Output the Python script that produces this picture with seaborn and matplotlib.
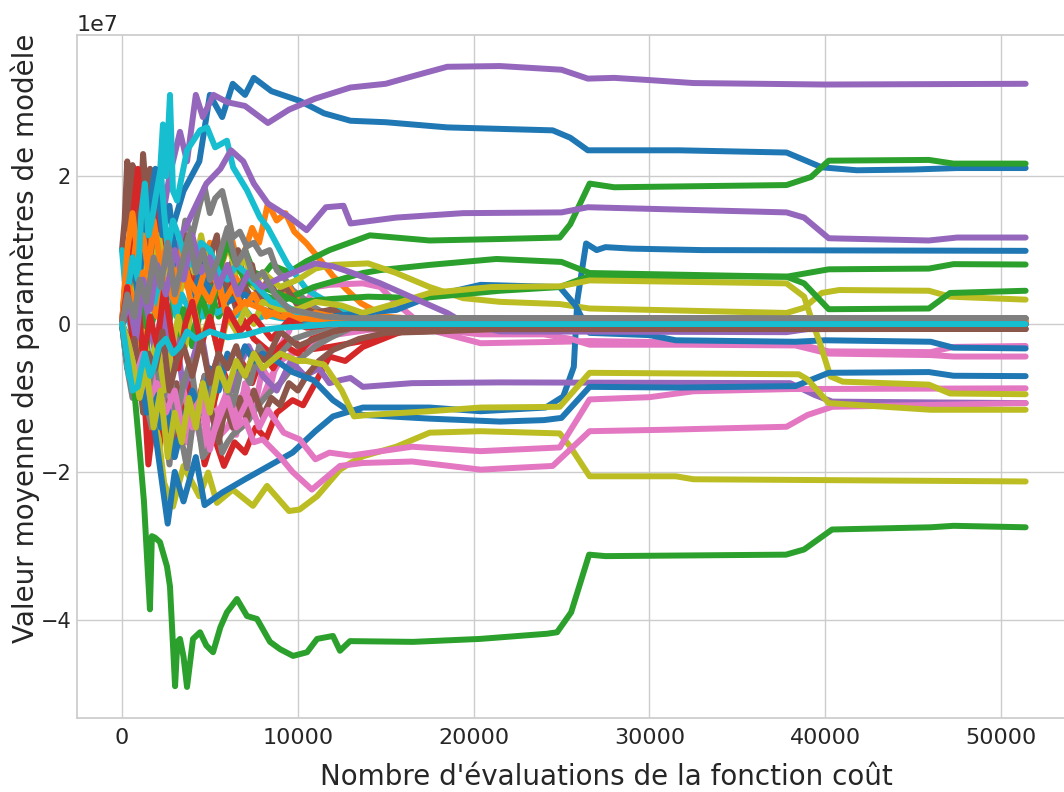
"""Trajectoires des paramètres moyens du modèle en fonction du nombre d'évaluations.

Les valeurs sont lues sur la figure de référence (en unités de 1e6).
"""

import matplotlib
matplotlib.use("Agg")
import matplotlib.pyplot as plt
import numpy as np
import pandas as pd
import seaborn as sns


# chaque série : (évaluations, valeur moyenne en 1e6)
blue_a = (
    [0, 1500, 2500, 3500, 4400, 5000, 5700, 6300, 7000, 7500, 8500, 10100, 11500, 13000, 15000,
     18500, 24500, 25500, 26500, 31700, 37800, 39800, 41800, 45000, 47500, 51400],
    [10, 5, 10, 18, 22, 31, 28, 32.5, 31, 33.3, 31.5, 30.2, 28.5, 27.5, 27.3,
     26.6, 26.2, 25.2, 23.5, 23.5, 23.2, 21.2, 20.8, 20.9, 21.1, 21.1],
)
orange_1 = (
    [0, 300, 600, 900, 1200, 1500, 1800, 2100, 2400, 2700, 3000, 3400, 3800, 4200, 4600, 5000,
     5400, 5800, 6200, 6600, 7000, 7400, 7800, 8300, 8800, 9300, 9800, 10500, 11300, 12000,
     12800, 13600, 15000, 18000, 51400],
    [0, 9, 6, 13, 8, 12, 5, 10, 7, 11, 4, 8, 6, 10, 8, 11,
     6, 9, 12, 8, 10, 13, 11, 16.3, 14, 15, 12.5, 10.9, 8.6, 6.5,
     4.6, 2.8, 1, 0.45, 0.45],
)
green_a = (
    [0, 400, 800, 1200, 1600, 2000, 2500, 3000, 3500, 4000, 4500, 5000, 5500, 6000, 6500, 7000,
     7500, 8000, 8500, 9500, 10500, 11800, 14100, 17500, 21500, 24900, 25500, 26600, 28000,
     37800, 39200, 40200, 45900, 47300, 51400],
    [0, 3, 8, 4, 10, 6, 9, 3, 7, 4, 8, 5, 9, 11, 8, 10,
     7, 6.5, 8, 7, 8.5, 10, 12, 11.3, 11.5, 11.7, 13.5, 19, 18.5,
     18.8, 19.9, 22.1, 22.2, 21.7, 21.7],
)
red_1 = (
    [0, 300, 600, 900, 1200, 1500, 1800, 2100, 2500, 2900, 3300, 3700, 4200, 4700, 5200, 5800,
     6400, 7000, 7600, 8200, 8800, 9700, 10300, 10900, 11800, 12700, 13700, 15600, 17000, 51400],
    [0, -6, -3, -10, -7, -19, -13, -17, -11, -18, -12, -16, -11, -19, -15, -19.2,
     -16, -17.4, -14, -15.5, -12, -10.3, -11, -8.4, -4.4, -5, -3.1, -1.3, -0.3, 0],
)
purple_a = (
    [0, 1000, 2000, 2700, 3300, 3700, 4200, 4600, 5200, 6000, 7000, 8300, 9500, 11000, 13000,
     15000, 16500, 18500, 21500, 25000, 26500, 28000, 30000, 32500, 40000, 51400],
    [0, 5, 10, 20, 26, 22, 31, 28, 31, 30, 29.5, 27.2, 29, 30.5, 32,
     32.5, 33.5, 34.8, 34.9, 34.4, 33.2, 33.3, 33.0, 32.6, 32.4, 32.5],
)
brown_1 = (
    [0, 150, 300, 450, 600, 750, 900, 1050, 1200, 1400, 1600, 1800, 2000, 2300, 2600, 3000,
     3400, 3800, 4200, 4600, 5000, 5500, 6000, 6500, 7000, 7500, 8000, 8700, 9500, 10500,
     12000, 14000, 17000, 20000, 51400],
    [10, 14, 22, 12, 21.5, 13, 20, 15, 23, 17, 21, 9, 14, 5, 10, 6,
     11, 5, 8, 3, 7, 4, 6, 2, 5, 3, 4, 1.5, 1, 2,
     1.5, -0.5, -1.0, -0.7, -0.67],
)
pink_1 = (
    [0, 300, 600, 900, 1200, 1500, 1800, 2200, 2600, 3000, 3400, 3700, 4100, 4500, 4900, 5200,
     5600, 6000, 6500, 7000, 7500, 8000, 8500, 9000, 9500, 10000, 10500, 11000, 11800, 13700,
     14700, 15600, 17000, 18000, 20400, 25000, 26600, 32000, 38300, 40200, 46000, 47300, 51400],
    [0, -3, -6, -2, -8, -10, -6, -12, -8, -14, -11, -16, -12, -16, -13, -12,
     -15, -14, -11, -9, -12, -6, -8, -3, -1, 2, 3, 5, 5.3, 5.5,
     5, 2.8, 0, -1.1, -2.6, -2.4, -2.3, -2.5, -2.6, -3.7, -3.8, -3.1, -2.97],
)
gray_1 = (
    [0, 200, 400, 700, 1000, 1300, 1600, 2000, 2400, 2800, 3200, 3600, 4000, 4400, 4700, 5000,
     5300, 5700, 6000, 6300, 6700, 7100, 7500, 7900, 8400, 8800, 9300, 9700, 10300, 10900,
     11500, 12200, 14000, 51400],
    [0, 6, 10, 4, 8, 12, 6, 9, 5, 11, 8, 14, 12, 16, 18.5, 15,
     17, 18, 15, 11.7, 12.5, 10.5, 11, 9.5, 10, 7.3, 6, 4.6, 3.5, 2.3,
     1.5, 1.0, 0.8, 0.77],
)
olive_1 = (
    [0, 800, 1500, 2100, 2400, 2900, 3500, 4400, 4900, 5400, 6300, 7450, 8250, 9500, 10100,
     11100, 12400, 13000, 13700, 15600, 17500, 20400, 24900, 25500, 26600, 31500, 32500, 51400],
    [0, -5, -10, -15.6, -21.5, -24.7, -19.2, -23.3, -20.1, -24.2, -22.4, -24.6, -21.9, -25.3, -25.1,
     -23.3, -19.7, -18.8, -17.9, -16.6, -14.7, -14.5, -14.8, -16.6, -20.6, -20.6, -21.0, -21.3],
)
cyan_1 = (
    [0, 300, 700, 1200, 1700, 2100, 2330, 2500, 2730, 2900, 3130, 3700, 4440, 4840, 5300, 5970,
     6320, 7110, 7850, 8300, 9390, 10530, 11840, 12800, 13700, 16000, 51400],
    [10, 2, -3, 5, 12, 18, 27, 20, 31, 18, 16.7, 23.5, 26.2, 26.6, 23.9, 24.8,
     21.2, 18.1, 14.4, 13, 8.2, 4.6, 2.8, 1.5, 0.5, 0.1, 0],
)
blue_b = (
    [0, 1500, 2600, 3000, 3500, 4200, 4700, 5700, 7000, 8500, 9700, 11000, 12000, 13700, 17500,
     20400, 24100, 25100, 25700, 25900, 26400, 27000, 27500, 29000, 33000, 51400],
    [0, -8, -27, -20, -24, -18, -24.5, -22.8, -21, -19, -17.4, -14.5, -12.5, -11.3, -11.3,
     -11.8, -11.3, -9.8, -5.8, 3.2, 10.9, 10, 10.4, 10.2, 10.0, 9.9],
)
orange_2 = (
    [0, 300, 600, 900, 1200, 1500, 1800, 2100, 2500, 2900, 3300, 3700, 4100, 4500, 5000, 5400,
     5800, 6300, 6800, 7300, 7800, 8300, 8900, 9500, 10200, 11000, 12000, 13000, 51400],
    [0, 6, 12, 8, 14, 5, 9, 4, 10, 3, 8, 5, 9, 6, 10, 7,
     4, 7, 5, 8, 4, 6, 3, 5, 2.5, 1.5, 1, 0.5, 0.45],
)
green_b = (
    [0, 400, 800, 1200, 1600, 2000, 2500, 3000, 3500, 4000, 4500, 5000, 5500, 6000, 7000, 8000,
     9000, 10900, 13700, 14700, 17500, 21300, 25000, 26600, 37800, 40200, 45900, 47300, 51400],
    [0, -3, 2, -5, -1, 3, -2, 4, 1, -3, 2, 5, 1, 3, 6, 4,
     3, 5, 6.9, 7.3, 8.0, 8.8, 8.4, 6.9, 6.4, 7.4, 7.5, 8.1, 8.05],
)
red_2 = (
    [0, 300, 600, 900, 1200, 1500, 1800, 2100, 2400, 2800, 3200, 3600, 4000, 4400, 4800, 5200,
     5700, 6200, 6800, 7500, 8500, 9500, 10500, 11800, 13700, 16000, 51400],
    [0, 8, 14, 21, 9, 16, 12, 18, 4, 10, 7, 12, 3, 9, 5, 8,
     2, 6, 1, -2, -4, -2, -3.5, -3.1, -2.3, -0.5, 0],
)
purple_b = (
    [0, 1500, 3000, 4800, 5600, 6200, 6900, 7500, 8300, 9500, 10500, 11600, 12600, 13000, 15600,
     19400, 25000, 26500, 37800, 38800, 40200, 45900, 47500, 51400],
    [0, 4, 10, 19, 21, 23.5, 22, 19, 16.3, 14.5, 12.7, 15.8, 16, 13.6, 14.4,
     15.0, 15.1, 15.8, 15.1, 14.4, 11.6, 11.3, 11.7, 11.7],
)
brown_2 = (
    [0, 300, 600, 900, 1200, 1500, 1800, 2100, 2500, 2900, 3300, 3700, 4100, 4500, 5000, 5400,
     5800, 6200, 6600, 7000, 7400, 7800, 8300, 8800, 9300, 10000, 11000, 12000, 13000, 16000,
     51400],
    [0, 6, 3, 10, 5, 13, 7, 11, 4, 9, 6, 12, 8, 5, 9, 12,
     4, 8, 10, 5, 8, 3, 6, 4, 5, 2.5, 1.5, 2, 0.5, 0,
     0],
)
pink_2 = (
    [0, 300, 600, 900, 1200, 1500, 1900, 2300, 2700, 3100, 3500, 3900, 4300, 4700, 5000, 5500,
     6000, 6500, 7000, 7500, 8000, 8500, 9000, 9700, 10500, 12000, 14000, 16500, 20400, 24000,
     25500, 26600, 32000, 38300, 40200, 46000, 47300, 51400],
    [0, -2, -5, -3, -9, -7, -12, -9, -15, -11, -8, -14, -13, -17, -9, -13,
     -12, -15, -8, -11, -10, -7, -5, -4, -3, -1.5, -0.8, -0.4, -1.4, -1.4,
     -2.0, -2.8, -2.8, -2.9, -4.0, -4.2, -4.4, -4.4],
)
gray_2 = (
    [0, 300, 600, 900, 1200, 1500, 1700, 2000, 2200, 2500, 2700, 3000, 3200, 3500, 3700, 4000,
     4300, 4600, 4900, 5300, 5700, 6000, 6300, 6800, 7200, 7600, 8000, 8500, 9000, 9500,
     10000, 10500, 11000, 11900, 12800, 14000, 16000, 51400],
    [0, -6, -10, -5, -8, -12, -14, -9, -10, -15, -19, -12, -14, -17, -19.5, -14,
     -13, -18, -17, -13, -17.4, -16, -15, -14, -13, -11.5, -10.3, -9, -8, -6.5,
     -4.9, -4, -3, -1.8, -0.8, 0.5, 0.77, 0.77],
)
olive_2 = (
    [0, 300, 600, 900, 1200, 1500, 1800, 2100, 2500, 2900, 3300, 3700, 4100, 4500, 5000, 5500,
     6000, 6500, 7000, 7500, 8000, 9000, 10000, 11000, 12000, 14000, 15600, 17500, 19400,
     21500, 24900, 26600, 37800, 38800, 39800, 40800, 45900, 47100, 51400],
    [0, 5, 2, 8, 4, 10, 6, 12, 5, 9, 4, 10, 7, 12, 6, 9,
     11, 7, 9, 5, 7, 5, 6, 7.5, 8.0, 8.2, 6.9, 5.0, 3.5,
     3.0, 2.7, 2.1, 1.5, 2.2, 4.2, 4.6, 4.5, 3.7, 3.3],
)
cyan_2 = (
    [0, 200, 400, 600, 800, 1000, 1300, 1600, 1900, 2200, 2500, 2800, 3100, 3400, 3800, 4200,
     4600, 5000, 5400, 5900, 6400, 7000, 7500, 8200, 9000, 10000, 11000, 12500, 15000, 51400],
    [0, -4, -7, -8, -5, -3, 1, 4, 2, 6, 3, 5, 1, 4, 2, 3,
     1, 2.5, 1.5, 2.2, 1, 2, 0.5, 1.2, 0.8, 0.5, 0.2, 0.3, 0, 0],
)
blue_c = (
    [0, 300, 600, 900, 1200, 1500, 1900, 2300, 2700, 3100, 3500, 4000, 4500, 5000, 5500, 6000,
     7000, 8000, 9000, 10000, 13700, 15600, 17500, 20400, 24900, 25800, 26600, 30000, 31500,
     38300, 40000, 46000, 47300, 51400],
    [0, 5, 9, 4, 11, 15, 21, 12, 16, 8, 10, 3, 8, 4, 6, 3,
     4, 2, 1, 0.5, 1.5, 1.9, 3.7, 5.3, 5.0, 2.5, -1.2, -1.5, -2.2,
     -2.4, -2.2, -2.4, -3.2, -3.3],
)
orange_3 = (
    [0, 300, 600, 900, 1200, 1500, 1800, 2200, 2600, 3000, 3400, 3800, 4300, 4800, 5300, 5800,
     6300, 6900, 7500, 8200, 9000, 10000, 11000, 13000, 51400],
    [0, 10, 15, 9, 12, 7, 14, 8, 11, 5, 10, 6, 4, 8, 6, 3,
     5, 2, 4, 1, 2, 0.5, 1.5, 0.5, 0.45],
)
green_c = (
    [0, 400, 800, 1200, 1600, 2000, 2500, 3000, 3500, 4000, 4500, 5000, 5500, 6000, 6500, 7000,
     8000, 9000, 10000, 12000, 14000, 17000, 21500, 24900, 26600, 37800, 38800, 40200, 45900,
     47100, 51400],
    [0, 2, -4, 3, -7, -3, 1, -5, 2, -2, 4, 0, 7, 11, 8, 6,
     5, 4, 3, 3.4, 3.7, 3.5, 4.5, 5.0, 6.5, 6.4, 5.5, 2.0, 2.1,
     4.2, 4.5],
)
red_3 = (
    [0, 300, 600, 900, 1200, 1500, 1800, 2200, 2600, 3000, 3400, 3800, 4200, 4700, 5200, 5700,
     6200, 6800, 7400, 8000, 8600, 9300, 10000, 10800, 12000, 14000, 51400],
    [0, -4, -8, -5, -11, -7, -13, -9, -15, -10, -14, -8, -12, -7, -11, -6,
     -9, -5, -8, -4, -6, -3, -4, -2, -1, 0, 0],
)
purple_c = (
    [0, 300, 700, 1100, 1500, 1900, 2300, 2700, 3100, 3500, 4000, 4500, 5000, 5500, 6000, 6600,
     7200, 8000, 8800, 9600, 10400, 11200, 11800, 12400, 13000, 13700, 16500, 21500, 38000,
     39400, 40400, 51400],
    [0, 4, -2, 6, 1, -4, 3, -7, -2, -9, -5, -1, -8, -4, -10, -6,
     -3, -7, -9, -5, -7, -6, -8, -7.6, -7.3, -8.5, -8.0, -7.9, -8.0,
     -9.6, -10.5, -10.7],
)
brown_3 = (
    [0, 300, 600, 900, 1200, 1500, 1900, 2300, 2700, 3100, 3500, 3900, 4300, 4700, 5100, 5500,
     5900, 6300, 6700, 7100, 7500, 8000, 8500, 9000, 9500, 10000, 10500, 11200, 12000, 13500,
     15000, 18000, 21000, 51400],
    [0, -4, -8, -5, -12, -9, -13, -7, -11, -8, -15, -10, -13, -9, -12, -16,
     -11, -14, -10, -13, -9, -12.5, -10, -11, -8, -9, -7, -5, -3.5, -2,
     -1.2, -1, -0.7, -0.67],
)
pink_3 = (
    [0, 400, 800, 1200, 1600, 2000, 2500, 3000, 3500, 4000, 4500, 5000, 5500, 6000, 6600, 7200,
     7800, 8300, 9200, 10100, 11000, 11800, 13000, 16500, 20400, 24900, 26600, 30000, 32500,
     38000, 51400],
    [0, -5, -3, -9, -6, -10, -7, -13, -9, -14, -11, -17, -12, -9, -13, -10,
     -14, -11.6, -14.7, -15.6, -18.3, -17.4, -17.8, -16.6, -17.2, -16.7, -10.2, -9.9, -9.1,
     -8.8, -8.7],
)
gray_3 = (
    [0, 300, 700, 1100, 1500, 1900, 2300, 2700, 3100, 3500, 3900, 4300, 4700, 5100, 5500, 5900,
     6300, 6800, 7300, 7800, 8400, 9000, 9800, 11000, 13000, 51400],
    [0, -3, -7, -2, -9, -4, -11, -6, -13, -8, -5, -12, -7, -10, -5, -8,
     -11, -6, -8, -3, -5, -4, -2, -1, 0.5, 0.77],
)
olive_3 = (
    [0, 300, 600, 900, 1200, 1600, 2000, 2400, 2800, 3200, 3600, 4000, 4500, 5000, 5500, 6000,
     6500, 7000, 7500, 8000, 9000, 10000, 11000, 12500, 13700, 15600, 17500, 21000, 24900,
     26600, 37800, 38800, 39300, 39700, 40300, 41000, 45900, 47100, 51400],
    [0, -3, -8, -4, -1, -6, -2, -9, -4, 1, -3, 3, -2, 1, -4, 1,
     -1, 2, 0, 3, 2, 2, 3, 2.5, 1.5, 2.8, 4.2, 5.0, 5.1,
     5.9, 5.5, 3.7, 0.1, -2.6, -7.1, -7.8, -8.2, -9.4, -9.5],
)
cyan_3 = (
    [0, 300, 600, 900, 1100, 1300, 1500, 1700, 1900, 2200, 2400, 2600, 2900, 3200, 3600, 4000,
     4500, 5000, 5500, 6000, 6500, 7000, 7700, 8500, 9300, 10000, 11000, 12000, 15000, 51400],
    [0, 4, 9, 6, 15, 19, 12, 14, 17, 21, 15, 10, 14, 12, 9, 8,
     11, 10, 7, 6, 8, 7, 5, 3, 2.5, 1.5, 1, 0.5, 0, 0],
)
blue_d = (
    [0, 300, 600, 1000, 1400, 1800, 2200, 2600, 3000, 3500, 4000, 4500, 5000, 5500, 6000, 6500,
     7000, 7500, 8000, 8800, 9700, 10900, 12000, 12800, 13700, 17500, 21500, 24000, 25000,
     26600, 31700, 38300, 40200, 45900, 47300, 51400],
    [0, -3, -8, -5, -12, -9, -14, -11, -18, -13, -9, -12, -6, -9, -4, -6,
     -3, -5, -4, -5, -6.5, -7.6, -10.3, -11.6, -12.3, -12.8, -13.2, -13, -12.7,
     -8.5, -8.6, -8.4, -6.6, -6.5, -7.0, -7.05],
)
orange_4 = (
    [0, 400, 800, 1200, 1600, 2000, 2500, 3000, 3500, 4000, 4500, 5000, 5500, 6000, 7000, 8000,
     9000, 10000, 12000, 51400],
    [0, 5, 2, 7, 3, 1, 6, 3, 8, 2, 5, 3, 6, 0.5, 3, 2,
     1, 0.8, 0.5, 0.45],
)
green_d = (
    [0, 350, 700, 1000, 1250, 1420, 1590, 1700, 1880, 2160, 2560, 2730, 3020, 3150, 3300, 3500,
     3700, 4040, 4440, 4800, 5180, 5600, 5970, 6540, 7110, 7680, 8420, 9000, 9730, 10530,
     11100, 12000, 12400, 12970, 16560, 20370, 24180, 24750, 25550, 26570, 27500, 37770,
     38800, 40390, 46000, 47300, 51400],
    [0, -5, -9, -17, -24, -31.4, -38.6, -28.7, -28.9, -29.5, -32.8, -35.5, -49, -43, -42.6, -45,
     -49.1, -42.6, -41.7, -43.5, -44.4, -41, -39, -37.2, -39.5, -39.9, -43, -44, -44.9, -44.4,
     -42.6, -42.2, -44.2, -42.9, -43, -42.6, -41.9, -41.7, -39, -31.2, -31.4, -31.2,
     -30.5, -27.8, -27.5, -27.3, -27.5],
)
red_4 = (
    [0, 300, 600, 900, 1200, 1600, 2000, 2400, 2800, 3200, 3600, 4000, 4500, 5000, 5500, 6000,
     6700, 7500, 8500, 9500, 10500, 12000, 51400],
    [0, 5, -2, 4, -5, 1, -3, 5, -1, -6, 0, 3, -3, 1, -4, 2,
     -1, 1, -2, 0.5, -0.5, 0, 0],
)
purple_d = (
    [0, 400, 800, 1200, 1600, 2000, 2500, 3000, 3500, 4000, 4500, 5000, 5500, 6000, 6600, 7200,
     8000, 8800, 9800, 11000, 12000, 13000, 14700, 16500, 18500, 19500, 21500, 37800, 39500,
     41000, 51400],
    [0, 3, -2, 6, 2, 8, 4, 10, 6, 12, 7, 9, 5, 8, 4, 7,
     5, 6, 7, 8.2, 7.8, 7, 5.5, 3.6, 1.5, 0.1, -1.0, -1.1, -0.5,
     0, 0],
)
brown_4 = (
    [0, 300, 700, 1100, 1500, 1900, 2300, 2700, 3100, 3500, 4000, 4500, 5000, 5500, 6000, 6500,
     7000, 7500, 8200, 9000, 10000, 11000, 12000, 13000, 15000, 51400],
    [0, -5, -2, -8, -4, -6, -1, -9, -5, -3, -7, -2, -8, -4, -6, -3,
     -7, -4, -5, -1, -3, -2, -1, -0.5, -0.7, -0.67],
)
pink_4 = (
    [0, 400, 800, 1200, 1600, 2000, 2500, 3000, 3500, 4000, 4500, 5000, 5500, 6000, 6500, 7000,
     7500, 8000, 9000, 9700, 10800, 12400, 13700, 16500, 20400, 24500, 26600, 31000, 37800,
     39000, 40400, 51400],
    [0, -3, -7, -4, -10, -8, -12, -9, -15, -12, -10, -16, -13, -10, -14, -13,
     -16, -15.6, -18, -20, -22.4, -19.2, -18.8, -18.6, -19.7, -19.2, -14.5, -14.3, -13.9,
     -12.3, -11.2, -10.7],
)
gray_4 = (
    [0, 300, 700, 1000, 1400, 1800, 2200, 2600, 3000, 3400, 3800, 4200, 4600, 5000, 5500, 6000,
     6500, 7000, 7500, 8000, 8700, 9500, 10500, 11500, 13000, 51400],
    [0, 4, 1, 6, 3, 9, 5, 11, 4, 8, 12, 7, 10, 6, 9, 13,
     8, 10, 6, 7, 4, 2, 1.5, 1, 0.8, 0.77],
)
olive_4 = (
    [0, 300, 600, 1000, 1400, 1800, 2200, 2600, 3000, 3400, 3800, 4200, 4600, 5000, 5500, 6000,
     6500, 7000, 7500, 8000, 9000, 10000, 10500, 11500, 12500, 13200, 14000, 17500, 20400,
     24900, 26600, 38500, 39000, 40200, 46000, 51400],
    [0, -2, -5, -10, -6, -14, -9, -18, -12, -16, -10, -14, -8, -12, -6, -9,
     -5, -7, -4, -6, -4, -5, -5, -5.5, -9, -12.5, -12.3, -11.8, -11.3,
     -11.2, -6.6, -6.8, -7.5, -10.7, -11.6, -11.6],
)
cyan_4 = (
    [0, 200, 400, 600, 900, 1100, 1300, 1600, 1800, 2100, 2500, 2900, 3300, 3700, 4200, 5000,
     6000, 7000, 8000, 9000, 10500, 12000, 51400],
    [0, -3, -6, -9, -8.5, -6, -4, -7, -6, -3, -2, -4, -3, -1, -2, -1,
     -1.8, -1.5, -0.8, -0.5, -0.3, 0, 0],
)

# ordre de tracé = ordre du cycle de couleurs tab10
SERIES = [
    blue_a, orange_1, green_a, red_1, purple_a, brown_1, pink_1, gray_1, olive_1, cyan_1,
    blue_b, orange_2, green_b, red_2, purple_b, brown_2, pink_2, gray_2, olive_2, cyan_2,
    blue_c, orange_3, green_c, red_3, purple_c, brown_3, pink_3, gray_3, olive_3, cyan_3,
    blue_d, orange_4, green_d, red_4, purple_d, brown_4, pink_4, gray_4, olive_4, cyan_4,
]


def build_frame() -> pd.DataFrame:
    """Assemble toutes les séries dans un tableau long."""
    frames = []
    for i, (xs, ys) in enumerate(SERIES):
        frames.append(pd.DataFrame({
            "evaluations": xs,
            "valeur": np.array(ys, dtype=float) * 1e6,
            "parametre": f"p{i}",
        }))
    return pd.concat(frames, ignore_index=True)


def main() -> None:
    sns.set_theme(style="whitegrid")
    plt.rcParams["font.family"] = ["DejaVu Sans"]

    df = build_frame()
    palette = sns.color_palette("tab10", 10) * 4

    fig = plt.figure(figsize=(10.64, 7.92), dpi=100)
    ax = fig.add_axes([76.8 / 1064, 74 / 792, 994 / 1064, 683 / 792])

    sns.lineplot(
        data=df, x="evaluations", y="valeur", hue="parametre",
        hue_order=[f"p{i}" for i in range(len(SERIES))],
        palette=palette, estimator=None, linewidth=4.3, legend=False, ax=ax,
    )

    ax.set_xlabel("Nombre d'évaluations de la fonction coût", fontsize=20)
    ax.set_ylabel("Valeur moyenne des paramètres de modèle", fontsize=20)
    ax.xaxis.set_label_coords(0.533, -0.066)
    ax.yaxis.set_label_coords(-0.037, 0.556)
    ax.tick_params(axis="x", labelsize=16, length=0, pad=7)
    ax.tick_params(axis="y", labelsize=15, length=0, pad=4)
    ax.yaxis.get_offset_text().set_fontsize(16)

    fig.savefig("out.png", dpi=100)
    plt.close(fig)


if __name__ == "__main__":
    main()
